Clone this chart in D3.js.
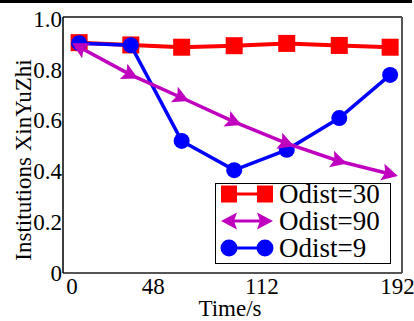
<!DOCTYPE html>
<html>
<head>
<meta charset="utf-8">
<script src="https://cdn.jsdelivr.net/npm/d3@7"></script>
<style>
  body { margin: 0; background: #fff; }
  svg { display: block; font-family: "Liberation Serif", "Times New Roman", serif; }
</style>
</head>
<body>
<div id="content"></div>
<script>
// data
const times = [4.5, 35, 65, 96, 127, 158, 188];
const odist30 = [0.907, 0.898, 0.889, 0.895, 0.904, 0.896, 0.889];
const odist90 = [0.89, 0.78, 0.69, 0.595, 0.51, 0.44, 0.39];
const odist9 = [0.905, 0.897, 0.52, 0.405, 0.485, 0.61, 0.78];
const xTicks = [0, 48, 112, 192];
const yTicks = [0, 0.2, 0.4, 0.6, 0.8, 1.0];
const labels = ['Odist=30', 'Odist=90', 'Odist=9'];

var app = {};
app.W = 414; app.H = 321;
var margin = { top: 17, right: 12, bottom: 48, left: 63 };

app.x = d3.scaleLinear().domain([-5, 195]).range([margin.left, app.W - margin.right]);
app.y = d3.scaleLinear().domain([0, 1.008]).range([app.H - margin.bottom, margin.top]);

app.svg = d3.select('#content').append('svg')
  .attr('width', app.W).attr('height', app.H);

// arrow head for the Odist=90 series
var defs = app.svg.append('defs');
function arrow(id, orient) {
  defs.append('marker')
    .attr('id', id)
    .attr('markerUnits', 'userSpaceOnUse')
    .attr('viewBox', '-10 -10 20 20')
    .attr('markerWidth', 20).attr('markerHeight', 20)
    .attr('refX', 0).attr('refY', 0)
    .attr('orient', orient)
    .append('path')
    .attr('d', 'M8,0 L-8,-8.5 L-5,0 L-8,8.5 Z')
    .attr('fill', '#bf00bf');
}
arrow('arr', 'auto');
arrow('arrStart', 'auto-start-reverse');

app.svg.append('rect').attr('x', 0).attr('y', 0).attr('width', 412).attr('height', 3).attr('fill', '#000');

// frame
var x0 = margin.left, x1 = app.W - margin.right, y0 = margin.top, y1 = app.H - margin.bottom;
app.svg.append('line').attr('x1', x0).attr('x2', x1).attr('y1', y0).attr('y2', y0).attr('stroke', '#111').attr('stroke-width', 1.5);
app.svg.append('line').attr('x1', x1).attr('x2', x1).attr('y1', y0).attr('y2', y1).attr('stroke', '#555').attr('stroke-width', 2);
app.svg.append('line').attr('x1', x0).attr('x2', x1).attr('y1', y1).attr('y2', y1).attr('stroke', '#555').attr('stroke-width', 2);
app.svg.append('line').attr('x1', x0).attr('x2', x0).attr('y1', y0).attr('y2', y1).attr('stroke', '#000').attr('stroke-width', 1.5);

// axes (no tick marks, labels only)
app.yAxis = app.svg.append('g')
  .attr('transform', `translate(${x0 - 1},0)`)
  .call(d3.axisLeft(app.y).tickValues(yTicks).tickSize(0).tickPadding(0)
    .tickFormat(d => d === 0 ? '0' : d3.format('.1f')(d)));
app.xAxis = app.svg.append('g')
  .attr('transform', `translate(0,${y1})`)
  .call(d3.axisBottom(app.x).tickValues(xTicks).tickSize(0).tickPadding(5));
app.svg.selectAll('.domain').remove();
app.svg.selectAll('g.tick').attr('font-family', null);
app.yAxis.attr('font-family', null);
app.xAxis.attr('font-family', null);
app.svg.selectAll('.tick text')
  .attr('font-size', 23).attr('fill', '#000');

app.svg.append('text')
  .attr('transform', 'translate(31,160) rotate(-90)')
  .attr('text-anchor', 'middle')
  .attr('font-size', 23)
  .text('Institutions XinYuZhi');
app.svg.append('text')
  .attr('x', 230).attr('y', 316)
  .attr('text-anchor', 'middle')
  .attr('font-size', 23)
  .text('Time/s');

var line = d3.line().x(d => app.x(d[0])).y(d => app.y(d[1]));
function pts(vals) { return times.map((t, i) => [t, vals[i]]); }

// Odist=30 red squares
app.svg.append('path').datum(pts(odist30)).attr('d', line)
  .attr('fill', 'none').attr('stroke', '#ff0000').attr('stroke-width', 4);
app.svg.selectAll('.sq').data(pts(odist30)).enter().append('rect')
  .attr('x', d => app.x(d[0]) - 8.5).attr('y', d => app.y(d[1]) - 8.5)
  .attr('width', 17).attr('height', 17).attr('fill', '#ff0000');

// Odist=9 blue circles
app.svg.append('path').datum(pts(odist9)).attr('d', line)
  .attr('fill', 'none').attr('stroke', '#0000ff').attr('stroke-width', 3.5);
app.svg.selectAll('.dot').data(pts(odist9)).enter().append('circle')
  .attr('cx', d => app.x(d[0])).attr('cy', d => app.y(d[1]))
  .attr('r', 8).attr('fill', '#0000ff');

// Odist=90 magenta arrows
app.svg.append('path').datum(pts(odist90)).attr('d', line)
  .attr('fill', 'none').attr('stroke', '#bf00bf').attr('stroke-width', 3.5)
  .attr('marker-start', 'url(#arrStart)')
  .attr('marker-mid', 'url(#arr)')
  .attr('marker-end', 'url(#arr)');

// legend
var lg = app.svg.append('g');
lg.append('rect').attr('x', 215.5).attr('y', 183.5).attr('width', 175).attr('height', 80)
  .attr('fill', '#fff').attr('stroke', '#000').attr('stroke-width', 1);
var rows = [194, 221, 248];
var lx0 = 229, lx1 = 265;
// red
lg.append('line').attr('x1', lx0).attr('x2', lx1).attr('y1', rows[0]).attr('y2', rows[0])
  .attr('stroke', '#ff0000').attr('stroke-width', 3);
[lx0, lx1].forEach(cx => lg.append('rect').attr('x', cx - 8).attr('y', rows[0] - 8.5)
  .attr('width', 16).attr('height', 17).attr('fill', '#ff0000'));
// magenta
lg.append('path').attr('d', `M${lx0},${rows[1]} L${lx1},${rows[1]}`)
  .attr('stroke', '#bf00bf').attr('stroke-width', 3)
  .attr('marker-start', 'url(#arrStart)').attr('marker-end', 'url(#arr)');
// blue
lg.append('line').attr('x1', lx0).attr('x2', lx1).attr('y1', rows[2]).attr('y2', rows[2])
  .attr('stroke', '#0000ff').attr('stroke-width', 3);
[lx0, lx1].forEach(cx => lg.append('circle').attr('cx', cx).attr('cy', rows[2])
  .attr('r', 8.5).attr('fill', '#0000ff'));

lg.selectAll('.lab').data(labels).enter().append('text')
  .attr('x', 279).attr('y', (d, i) => rows[i] + 9)
  .attr('font-size', 27)
  .text(d => d);
</script>
</body>
</html>
